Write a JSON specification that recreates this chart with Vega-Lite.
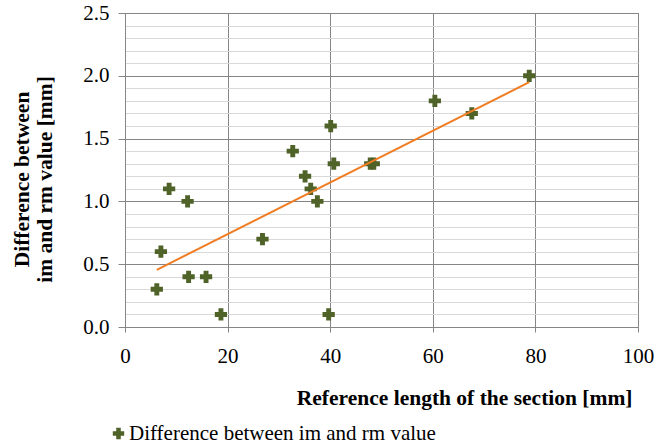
{
  "$schema": "https://vega.github.io/schema/vega-lite/v6.json",
  "autosize": "none",
  "padding": {"left": 125, "top": 13, "right": 18, "bottom": 121},
  "width": 513,
  "height": 314,
  "background": "white",
  "config": {
    "view": {"stroke": "#868686", "strokeWidth": 1},
    "axis": {"labelFont": "Liberation Serif", "titleFont": "Liberation Serif"},
    "style": {"guide-label": {"font": "Liberation Serif"}, "guide-title": {"font": "Liberation Serif"}}
  },
  "data": {
    "values": [
      {"x": 6.2, "y": 0.3},
      {"x": 7.0, "y": 0.6},
      {"x": 8.6, "y": 1.1},
      {"x": 12.2, "y": 1.0},
      {"x": 12.4, "y": 0.4},
      {"x": 15.8, "y": 0.4},
      {"x": 18.7, "y": 0.1},
      {"x": 26.8, "y": 0.7},
      {"x": 32.7, "y": 1.4},
      {"x": 35.1, "y": 1.2},
      {"x": 36.2, "y": 1.1},
      {"x": 37.5, "y": 1.0},
      {"x": 40.1, "y": 1.6},
      {"x": 39.7, "y": 0.1},
      {"x": 40.7, "y": 1.3},
      {"x": 47.8, "y": 1.3},
      {"x": 48.5, "y": 1.3},
      {"x": 60.4, "y": 1.8},
      {"x": 67.6, "y": 1.7},
      {"x": 78.8, "y": 2.0}
    ]
  },
  "layer": [
    {
      "mark": {"type": "point", "shape": "cross", "filled": true, "size": 150, "opacity": 1},
      "encoding": {
        "x": {
          "field": "x", "type": "quantitative",
          "scale": {"domain": [0, 100], "nice": false},
          "axis": {
            "values": [0, 20, 40, 60, 80, 100],
            "tickCount": 20,
            "labelFont": "Liberation Serif, Times New Roman, serif", "labelFontSize": 21, "labelColor": "#000000",
            "labelOverlap": false,
            "domainColor": "#868686", "tickColor": "#868686",
            "grid": true, "gridColor": "#868686", "gridOpacity": 1,
            "tickSize": 5, "labelPadding": 13, "labelFlush": false,
            "title": "Reference length of the section [mm]",
            "titleFont": "Liberation Serif", "titleFontSize": 21.5, "titleFontWeight": "bold", "titleColor": "#000000",
            "titleAnchor": "end", "titleAlign": "right",
            "titleX": 507, "titleY": 77, "titleBaseline": "alphabetic"
          }
        },
        "y": {
          "field": "y", "type": "quantitative",
          "scale": {"domain": [0, 2.5], "nice": false},
          "axis": {
            "values": [0, 0.1, 0.2, 0.3, 0.4, 0.5, 0.6, 0.7, 0.8, 0.9, 1.0, 1.1, 1.2, 1.3, 1.4, 1.5, 1.6, 1.7, 1.8, 1.9, 2.0, 2.1, 2.2, 2.3, 2.4, 2.5],
            "tickCount": 40,
            "format": ".1f",
            "labelOverlap": false,
            "labelFont": "Liberation Serif, Times New Roman, serif", "labelFontSize": 21, "labelColor": "#000000",
            "labelExpr": "abs(datum.value*2 - round(datum.value*2)) < 0.001 ? datum.label : ''",
            "domainColor": "#868686", "tickColor": "#868686",
            "grid": true,
            "gridColor": {"condition": {"test": "abs(datum.value*2 - round(datum.value*2)) < 0.001", "value": "#868686"}, "value": "#D9D9D9"},
            "gridOpacity": 1,
            "tickOpacity": {"condition": {"test": "abs(datum.value*2 - round(datum.value*2)) < 0.001", "value": 1}, "value": 0},
            "tickSize": 7, "labelPadding": 9, "labelFlush": false,
            "title": ["Difference between", "im and rm value [mm]"],
            "titleFont": "Liberation Serif", "titleFontSize": 21.5, "titleFontWeight": "bold", "titleColor": "#000000",
            "titleLineHeight": 23,
            "titleAngle": -90,
            "titleAlign": "center",
            "titleBaseline": "alphabetic",
            "titleX": -97, "titleY": 166
          }
        },
        "color": {
          "datum": "Difference between im and rm value",
          "type": "nominal",
          "scale": {"range": ["#4F6228"]},
          "legend": {
            "orient": "none", "legendX": -17, "legendY": 410,
            "title": null, "padding": 0,
            "symbolType": "cross", "symbolSize": 130,
            "symbolFillColor": "#4F6228", "symbolStrokeColor": "#4F6228", "symbolStrokeWidth": 0,
            "labelFont": "Liberation Serif", "labelFontSize": 21,
            "labelColor": "#000000", "labelOffset": 0, "labelLimit": 500
          }
        }
      }
    },
    {
      "transform": [{"regression": "y", "on": "x"}],
      "mark": {"type": "line", "color": "#F07D23", "strokeWidth": 2},
      "encoding": {
        "x": {"field": "x", "type": "quantitative"},
        "y": {"field": "y", "type": "quantitative"}
      }
    }
  ]
}
